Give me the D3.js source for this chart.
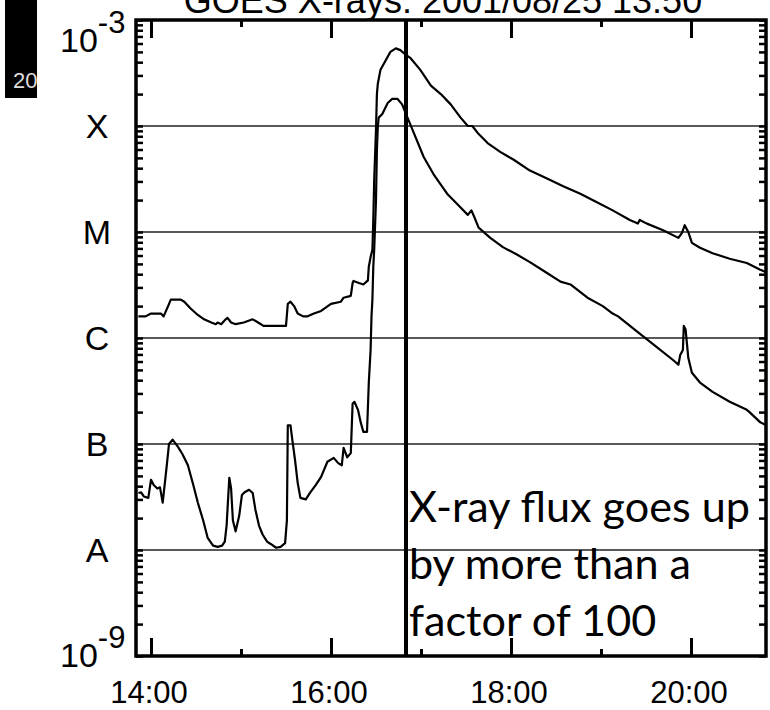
<!DOCTYPE html>
<html>
<head>
<meta charset="utf-8">
<script src="https://cdn.jsdelivr.net/npm/d3@7"></script>
<style>
  body { margin: 0; background: #fff; }
  svg { display: block; }
</style>
</head>
<body>
<svg width="770" height="710"></svg>
<script>
// GOES X-ray flux, 1-8 A (upper) and 0.5-4 A (lower), time in decimal hours UT, flux in W/m^2
const longTimes = [13.86, 13.94, 14.00, 14.11, 14.14, 14.19, 14.22, 14.26, 14.33, 14.37, 14.44, 14.52,
  14.59, 14.67, 14.72, 14.74, 14.78, 14.83, 14.85, 14.89, 14.94, 15.03, 15.13, 15.19, 15.25, 15.33,
  15.50, 15.52, 15.55, 15.59, 15.63, 15.69, 15.74, 15.81, 15.89, 16.00, 16.11, 16.14, 16.22, 16.24,
  16.25, 16.31, 16.36, 16.41, 16.42, 16.44, 16.46, 16.47, 16.48, 16.50, 16.51, 16.52, 16.55, 16.61,
  16.66, 16.72, 16.77, 16.83, 16.88, 16.99, 17.11, 17.22, 17.33, 17.44, 17.52, 17.57, 17.63, 17.74,
  17.88, 18.03, 18.21, 18.40, 18.58, 18.77, 18.96, 19.13, 19.32, 19.41, 19.43, 19.51, 19.69, 19.86,
  19.90, 19.93, 19.97, 20.01, 20.10, 20.24, 20.43, 20.62, 20.77, 20.86];
const longFlux = [1.6e-6, 1.6e-6, 1.7e-6, 1.7e-6, 1.6e-6, 2.0e-6, 2.3e-6, 2.3e-6, 2.3e-6, 2.2e-6, 1.9e-6, 1.65e-6,
  1.5e-6, 1.4e-6, 1.35e-6, 1.4e-6, 1.35e-6, 1.5e-6, 1.55e-6, 1.4e-6, 1.35e-6, 1.4e-6, 1.5e-6, 1.4e-6, 1.3e-6, 1.3e-6,
  1.3e-6, 2.1e-6, 2.2e-6, 2.0e-6, 1.7e-6, 1.6e-6, 1.6e-6, 1.7e-6, 1.8e-6, 2.1e-6, 2.2e-6, 2.4e-6, 2.5e-6, 3.3e-6,
  3.45e-6, 3.3e-6, 3.2e-6, 3.5e-6, 4.7e-6, 5.8e-6, 6.8e-6, 1.3e-5, 3.1e-5, 9.2e-5, 2.0e-4, 2.5e-4, 3.4e-4, 4.2e-4,
  5.0e-4, 5.4e-4, 5.2e-4, 4.7e-4, 4.4e-4, 3.4e-4, 2.4e-4, 2.0e-4, 1.6e-4, 1.2e-4, 1.0e-4, 1.0e-4, 8.6e-5, 6.9e-5,
  5.7e-5, 4.8e-5, 3.8e-5, 3.2e-5, 2.7e-5, 2.3e-5, 1.9e-5, 1.6e-5, 1.3e-5, 1.2e-5, 1.3e-5, 1.2e-5, 1.04e-5, 8.8e-6,
  9.8e-6, 1.16e-5, 1.0e-5, 7.9e-6, 7.1e-6, 6.3e-6, 5.6e-6, 5.1e-6, 4.4e-6, 4.1e-6];

const shortTimes = [13.86, 13.89, 13.92, 13.97, 14.00, 14.03, 14.07, 14.10, 14.13, 14.17, 14.20, 14.24,
  14.30, 14.35, 14.41, 14.47, 14.52, 14.58, 14.63, 14.69, 14.74, 14.79, 14.82, 14.84, 14.87, 14.89,
  14.91, 14.94, 14.98, 15.01, 15.04, 15.09, 15.13, 15.16, 15.20, 15.24, 15.29, 15.33, 15.39, 15.44,
  15.49, 15.51, 15.52, 15.55, 15.57, 15.60, 15.63, 15.66, 15.72, 15.77, 15.83, 15.89, 15.96, 16.03,
  16.08, 16.12, 16.14, 16.18, 16.22, 16.24, 16.26, 16.30, 16.33, 16.36, 16.40, 16.41, 16.42, 16.44,
  16.45, 16.46, 16.47, 16.48, 16.50, 16.51, 16.52, 16.53, 16.57, 16.63, 16.68, 16.74, 16.79, 16.85,
  16.92, 17.03, 17.14, 17.29, 17.44, 17.52, 17.56, 17.59, 17.64, 17.77, 17.91, 18.07, 18.21, 18.40,
  18.55, 18.66, 18.85, 19.02, 19.13, 19.19, 19.43, 19.62, 19.80, 19.86, 19.88, 19.91, 19.92, 19.94,
  19.97, 20.01, 20.10, 20.24, 20.43, 20.62, 20.65, 20.77, 20.84];
const shortFlux = [3.45e-8, 3.5e-8, 3.2e-8, 3.1e-8, 4.6e-8, 4.1e-8, 3.8e-8, 3.9e-8, 2.8e-8, 5.7e-8, 1.0e-7, 1.1e-7,
  9.4e-8, 8.0e-8, 6.3e-8, 4.1e-8, 2.8e-8, 1.9e-8, 1.3e-8, 1.1e-8, 1.07e-8, 1.1e-8, 1.2e-8, 1.7e-8, 4.8e-8, 3.8e-8,
  1.9e-8, 1.5e-8, 2.1e-8, 3.3e-8, 3.5e-8, 3.7e-8, 3.45e-8, 2.4e-8, 1.7e-8, 1.4e-8, 1.2e-8, 1.14e-8, 1.05e-8, 1.07e-8,
  1.16e-8, 1.9e-8, 1.5e-7, 1.5e-7, 1.1e-7, 7.1e-8, 4.3e-8, 3.1e-8, 3.0e-8, 3.5e-8, 4.1e-8, 4.9e-8, 6.8e-8, 7.4e-8,
  6.6e-8, 6.3e-8, 9.2e-8, 7.5e-8, 8.2e-8, 2.4e-7, 2.5e-7, 2.1e-7, 1.6e-7, 1.3e-7, 1.3e-7, 2.2e-7, 3.8e-7, 7.7e-7,
  1.6e-6, 2.3e-6, 4.7e-6, 6.8e-6, 2.0e-5, 5.9e-5, 9.8e-5, 1.2e-4, 1.3e-4, 1.65e-4, 1.8e-4, 1.8e-4, 1.6e-4, 1.2e-4,
  8.6e-5, 5.1e-5, 3.5e-5, 2.3e-5, 1.7e-5, 1.45e-5, 1.6e-5, 1.4e-5, 1.1e-5, 8.8e-6, 7.2e-6, 6.1e-6, 5.2e-6, 4.1e-6,
  3.4e-6, 3.2e-6, 2.4e-6, 2.0e-6, 1.7e-6, 1.6e-6, 1.1e-6, 8.2e-7, 6.2e-7, 5.6e-7, 6.9e-7, 7.7e-7, 1.3e-6, 1.2e-6,
  6.5e-7, 4.7e-7, 3.8e-7, 3.1e-7, 2.5e-7, 2.1e-7, 2.0e-7, 1.6e-7, 1.5e-7];

const classLetters = ['A', 'B', 'C', 'M', 'X'];
const classFlux = [1e-8, 1e-7, 1e-6, 1e-5, 1e-4];
const hourTicks = [14, 15, 16, 17, 18, 19, 20];
const hourLabels = ['14:00', '16:00', '18:00', '20:00'];
const eventTime = 16 + 50 / 60;
const noteLines = ['X-ray flux goes up', 'by more than a', 'factor of 100'];
const title = 'GOES X-rays: 2001/08/25 13:50';

const plotLeft = 136, plotRight = 766, plotTop = 20, plotBottom = 656;
const axisFont = '"Liberation Sans", Arial, Helvetica, sans-serif';

const svg = d3.select('svg');

const x = d3.scaleLinear()
  .domain([13 + 50 / 60, 20 + 50 / 60])
  .range([plotLeft, plotRight]);
const y = d3.scaleLog()
  .domain([1e-9, 1e-3])
  .range([plotBottom, plotTop]);

// clipped black strip at the far left (from the slide behind)
svg.append('rect')
  .attr('x', 5).attr('y', 0).attr('width', 32).attr('height', 98)
  .attr('fill', '#000');
svg.append('clipPath').attr('id', 'strip')
  .append('rect').attr('x', 5).attr('y', 0).attr('width', 32).attr('height', 98);
svg.append('text')
  .attr('clip-path', 'url(#strip)')
  .attr('x', 13).attr('y', 88)
  .attr('fill', '#ddd')
  .attr('font-family', axisFont)
  .attr('font-size', 22)
  .text('20');

// title, partly above the picture
svg.append('text')
  .attr('x', (plotLeft + plotRight) / 2 - 8).attr('y', 13)
  .attr('text-anchor', 'middle')
  .attr('font-family', axisFont)
  .attr('font-size', 36)
  .text(title);

// class grid lines
svg.append('g').selectAll('line')
  .data(classFlux)
  .join('line')
  .attr('x1', plotLeft).attr('x2', plotRight)
  .attr('y1', d => y(d)).attr('y2', d => y(d))
  .attr('stroke', '#222')
  .attr('stroke-width', 1.5);

// curves
svg.append('clipPath').attr('id', 'plot')
  .append('rect').attr('x', plotLeft).attr('y', plotTop)
  .attr('width', plotRight - plotLeft).attr('height', plotBottom - plotTop);

const line = d3.line()
  .x(d => x(d[0]))
  .y(d => y(d[1]));

[[longTimes, longFlux], [shortTimes, shortFlux]].forEach(([ts, fs]) => {
  svg.append('path')
    .datum(d3.zip(ts, fs))
    .attr('clip-path', 'url(#plot)')
    .attr('fill', 'none')
    .attr('stroke', '#000')
    .attr('stroke-width', 2.2)
    .attr('stroke-linejoin', 'round')
    .attr('d', line);
});

// ticks, all pointing inward
const minorFlux = [];
for (let e = -9; e < -3; e++) {
  for (let m = 1; m < 10; m++) minorFlux.push(m * Math.pow(10, e));
}
minorFlux.push(1e-3);

function styleTicks(g) {
  g.select('.domain').remove();
  g.selectAll('.tick line').attr('stroke', '#000').attr('stroke-width', 3);
  g.selectAll('.tick text').remove();
}

const xb = svg.append('g').attr('transform', `translate(0,${plotBottom})`)
  .call(d3.axisBottom(x).tickValues(hourTicks).tickSize(-18).tickFormat(''))
  .call(styleTicks);
xb.selectAll('.tick line').attr('y2', d => d % 2 ? -7 : -18);

const xt = svg.append('g').attr('transform', `translate(0,${plotTop})`)
  .call(d3.axisTop(x).tickValues(hourTicks).tickSize(-18).tickFormat(''))
  .call(styleTicks);
xt.selectAll('.tick line').attr('y2', d => d % 2 ? 7 : 18);

svg.append('g').attr('transform', `translate(${plotLeft},0)`)
  .call(d3.axisLeft(y).tickValues(minorFlux).tickSize(-7).tickFormat(''))
  .call(styleTicks)
  .selectAll('.tick line').attr('stroke-width', 2.5);

svg.append('g').attr('transform', `translate(${plotRight},0)`)
  .call(d3.axisRight(y).tickValues(minorFlux).tickSize(-7).tickFormat(''))
  .call(styleTicks)
  .selectAll('.tick line').attr('stroke-width', 2.5);

// frame
svg.append('rect')
  .attr('x', plotLeft).attr('y', plotTop)
  .attr('width', plotRight - plotLeft).attr('height', plotBottom - plotTop)
  .attr('fill', 'none')
  .attr('stroke', '#000')
  .attr('stroke-width', 3.5);

// x labels
svg.append('g').selectAll('text')
  .data(hourLabels)
  .join('text')
  .attr('x', d => x(+d.split(':')[0]) - 2)
  .attr('y', 703)
  .attr('text-anchor', 'middle')
  .attr('font-family', axisFont)
  .attr('font-size', 31)
  .text(d => d);

// y labels: class letters
svg.append('g').selectAll('text')
  .data(classLetters)
  .join('text')
  .attr('x', 97)
  .attr('y', (d, i) => y(classFlux[i]) + 12)
  .attr('text-anchor', 'middle')
  .attr('font-family', axisFont)
  .attr('font-size', 34)
  .text(d => d);

// y labels: powers of ten at the ends
[[1e-3, -3, 32], [1e-9, -9, 11]].forEach(([v, p, dy]) => {
  const t = svg.append('text')
    .attr('x', 60)
    .attr('y', y(v) + dy)
    .attr('font-family', axisFont)
    .attr('font-size', 34);
  t.append('tspan').text('10');
  t.append('tspan')
    .attr('dy', -19)
    .attr('font-size', 31)
    .text(p);
});

// event line
svg.append('line')
  .attr('x1', x(eventTime)).attr('x2', x(eventTime))
  .attr('y1', plotTop).attr('y2', plotBottom)
  .attr('stroke', '#000')
  .attr('stroke-width', 4);

// note
const note = svg.append('g')
  .attr('font-family', 'Lato, "Open Sans", sans-serif')
  .attr('fill', '#000');
const first = note.append('text').attr('font-size', 40).text(noteLines[0]);
const noteSize = 40 * 341 / first.node().getComputedTextLength();
first.remove();
note.selectAll('text')
  .data(noteLines)
  .join('text')
  .attr('x', x(eventTime) + 3)
  .attr('y', (d, i) => 522 + i * 57)
  .attr('font-size', noteSize)
  .text(d => d);
</script>
</body>
</html>
